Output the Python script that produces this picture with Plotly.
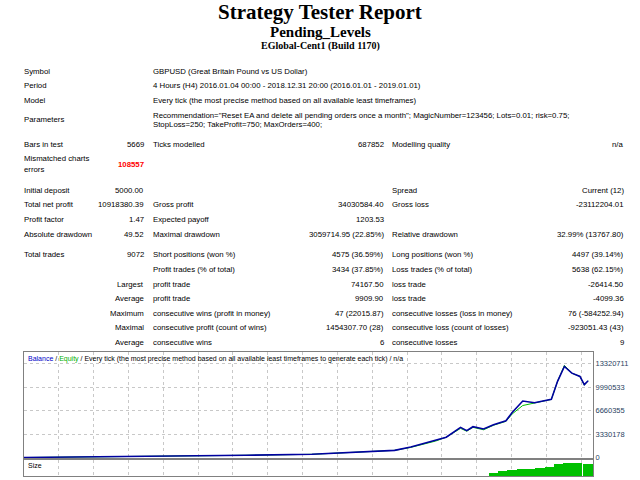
import plotly.graph_objects as go

W, H = 640, 480

# balance curve (trade number, balance)
trade_no = [0, 2480, 3570, 4630, 5230, 5960, 6220, 6620, 6790, 7020, 7120, 7220, 7390,
            7550, 7750, 7850, 8020, 8210, 8480, 8580, 8690, 8810, 8940, 9010, 9072]
balance = [5000, 187000, 327000, 467000, 700000, 1030000, 1500000, 2430000, 2900000,
           4300000, 3830000, 4390000, 4070000, 4670000, 5230000, 6400000, 8040000,
           7800000, 8270000, 10840000, 12950000, 12000000, 11540000, 10370000, 10920000]
equity = [5000, 187000, 327000, 467000, 700000, 1030000, 1450000, 2350000, 2900000,
          4150000, 3750000, 4300000, 3950000, 4600000, 5150000, 6200000, 7400000,
          7800000, 8270000, 10840000, 13100000, 12000000, 11540000, 10300000, 10920000]
y_ticks = [0, 3330178, 6660355, 9990533, 13320711]

# size panel (lots, rough)
size_x = [7550, 7700, 7850, 8000, 8150, 8300, 8450, 8600, 8750, 8900, 9072]
size_y = [0.2, 0.35, 0.45, 0.5, 0.55, 0.6, 0.7, 0.9, 1.0, 0.95, 0.9]

rows = [
    ("Symbol", "", "GBPUSD (Great Britain Pound vs US Dollar)", "", "", "", 72),
    ("Period", "", "4 Hours (H4) 2016.01.04 00:00 - 2018.12.31 20:00 (2016.01.01 - 2019.01.01)", "", "", "", 86),
    ("Model", "", "Every tick (the most precise method based on all available least timeframes)", "", "", "", 101),
    ("Bars in test", "5669", "Ticks modelled", "687852", "Modelling quality", "n/a", 146),
    ("Initial deposit", "5000.00", "", "", "Spread", "Current (12)", 192),
    ("Total net profit", "10918380.39", "Gross profit", "34030584.40", "Gross loss", "-23112204.01", 206),
    ("Profit factor", "1.47", "Expected payoff", "1203.53", "", "", 221),
    ("Absolute drawdown", "49.52", "Maximal drawdown", "3059714.95 (22.85%)", "Relative drawdown", "32.99% (13767.80)", 236),
    ("Total trades", "9072", "Short positions (won %)", "4575 (36.59%)", "Long positions (won %)", "4497 (39.14%)", 257),
    ("", "", "Profit trades (% of total)", "3434 (37.85%)", "Loss trades (% of total)", "5638 (62.15%)", 272),
    ("", "Largest", "profit trade", "74167.50", "loss trade", "-26414.50", 287),
    ("", "Average", "profit trade", "9909.90", "loss trade", "-4099.36", 301),
    ("", "Maximum", "consecutive wins (profit in money)", "47 (22015.87)", "consecutive losses (loss in money)", "76 (-584252.94)", 316),
    ("", "Maximal", "consecutive profit (count of wins)", "1454307.70 (28)", "consecutive loss (count of losses)", "-923051.43 (43)", 330),
    ("", "Average", "consecutive wins", "6", "consecutive losses", "9", 345),
]


def px(x):
    return x / W


def py(y):
    return 1 - y / H


FONT = dict(family="Liberation Sans", size=7.8, color="black")
ann = []


def txt(x, y, s, anchor="left", **kw):
    f = dict(FONT)
    f.update(kw)
    ann.append(dict(x=px(x), y=py(y), xref="paper", yref="paper", text=s, showarrow=False,
                    xanchor=anchor, yanchor="middle", font=f))


ann.append(dict(x=0.5, y=py(12), xref="paper", yref="paper", showarrow=False, yanchor="middle",
                text="<b>Strategy Tester Report</b>", font=dict(family="Liberation Serif", size=21, color="black")))
ann.append(dict(x=0.5, y=py(32), xref="paper", yref="paper", showarrow=False, yanchor="middle",
                text="<b>Pending_Levels</b>", font=dict(family="Liberation Serif", size=15, color="black")))
ann.append(dict(x=0.5, y=py(46), xref="paper", yref="paper", showarrow=False, yanchor="middle",
                text="<b>EGlobal-Cent1 (Build 1170)</b>", font=dict(family="Liberation Serif", size=10, color="black")))

for lab, v1, lab2, v2, lab3, v3, y in rows:
    if lab:
        txt(22, y, lab)
    if v1:
        txt(146, y, v1, "right")
    if lab2:
        txt(151, y, lab2)
    if v2:
        txt(386, y, v2, "right")
    if lab3:
        txt(390, y, lab3)
    if v3:
        txt(626, y, v3, "right")

txt(22, 121, "Parameters")
txt(151, 116, 'Recommendation="Reset EA and delete all pending orders once a month"; MagicNumber=123456; Lots=0.01; risk=0.75;')
txt(151, 126, "StopLoss=250; TakeProfit=750; MaxOrders=400;")
txt(22, 160, "Mismatched charts")
txt(22, 171, "errors")
txt(146, 166, "<b>108557</b>", "right", color="red")
txt(26, 362, '<span style="color:#0000c8">Balance</span> / <span style="color:#00b000">Equity</span>'
    ' / Every tick (the most precise method based on all available least timeframes to generate each tick) / n/a',
    size=7)
txt(26, 469, "Size", size=7)

fig = go.Figure()
fig.add_trace(go.Scatter(x=trade_no, y=equity, mode="lines", line=dict(color="#00c000", width=1),
                         xaxis="x", yaxis="y"))
fig.add_trace(go.Scatter(x=trade_no, y=balance, mode="lines", line=dict(color="#0000a0", width=1.6),
                         xaxis="x", yaxis="y"))
fig.add_trace(go.Bar(x=size_x, y=size_y, marker=dict(color="#00c000", line_width=0), width=150,
                     xaxis="x2", yaxis="y2"))

grid = dict(showgrid=True, gridcolor="#c8c8c8", griddash="dot", gridwidth=1)
fig.update_layout(
    width=W, height=H, margin=dict(l=0, r=0, t=0, b=0), paper_bgcolor="white", plot_bgcolor="white",
    showlegend=False, annotations=ann, bargap=0,
    xaxis=dict(domain=[px(24), px(593)], range=[0, 9150], anchor="y", showticklabels=False,
               dtick=560, tick0=0, mirror=True, showline=True, linecolor="#808080", zeroline=False, **grid),
    yaxis=dict(domain=[py(462), py(355)], range=[-80000, 15000000], side="right", tickvals=y_ticks,
               ticktext=[str(v) for v in y_ticks], tickfont=dict(family="Liberation Sans", size=7.5),
               mirror=True, showline=True, linecolor="#808080", zeroline=False, ticks="", **grid),
    xaxis2=dict(domain=[px(24), px(593)], range=[0, 9150], anchor="y2", showticklabels=False,
                dtick=560, tick0=0, mirror=True, showline=True, linecolor="#808080", zeroline=False, **grid),
    yaxis2=dict(domain=[0, py(464)], range=[0, 1.2], side="right", showticklabels=False,
                mirror=True, showline=True, linecolor="#808080", zeroline=False, showgrid=False),
)

fig.write_html("out.html", config={"displayModeBar": False},
               post_script="document.body.style.margin='0';document.body.style.overflow='hidden';")
